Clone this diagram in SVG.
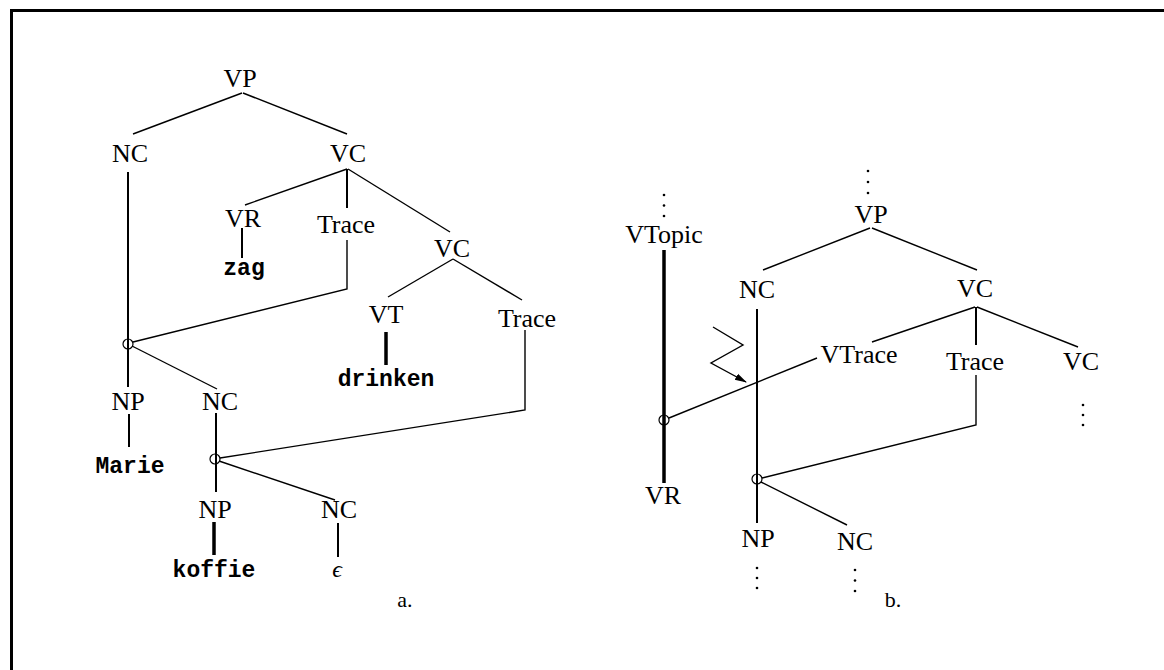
<svg xmlns="http://www.w3.org/2000/svg" width="1164" height="670" viewBox="0 0 1164 670">
<defs>
<style>
.lbl{font-family:"Liberation Serif",serif;font-size:26px;text-anchor:middle;fill:#000}
.tt{font-family:"Liberation Mono",monospace;font-size:23px;font-weight:bold;text-anchor:middle;fill:#000}
.e{fill:none;stroke:#000;stroke-width:1.4}
.v{fill:none;stroke:#000;stroke-width:2}
.tk{fill:none;stroke:#000;stroke-width:3.5}
.c{fill:none;stroke:#000;stroke-width:1.2}
.dot{fill:#000}
</style>
<marker id="ah" viewBox="0 0 12 10" refX="11" refY="5" markerWidth="12" markerHeight="10" orient="auto" markerUnits="userSpaceOnUse">
<path d="M0,1.5 L12,5 L0,8.5 z" fill="#000"/>
</marker>
</defs>
<rect width="1164" height="670" fill="#fff"/>
<path d="M11.5,670 V10.5 H1164" fill="none" stroke="#000" stroke-width="3"/>

<g id="connectors">
<!-- left tree -->
<line class="e" x1="242" y1="93" x2="133" y2="134"/>
<line class="e" x1="243" y1="93" x2="347" y2="134"/>
<line class="v" x1="128" y1="172" x2="128" y2="387"/>
<line class="e" x1="347" y1="169" x2="245" y2="205"/>
<line class="v" x1="347" y1="169" x2="347" y2="208"/>
<line class="e" x1="348" y1="169" x2="450" y2="232"/>
<line class="v" x1="242" y1="228" x2="242" y2="258"/>
<polyline class="e" points="347,240 347,289 133,342"/>
<line class="e" x1="132" y1="346" x2="217" y2="389"/>
<line class="v" x1="129" y1="414" x2="129" y2="447"/>
<line class="v" x1="216" y1="413" x2="216" y2="492"/>
<line class="e" x1="453" y1="259" x2="388" y2="297"/>
<line class="e" x1="453" y1="259" x2="522" y2="300"/>
<line class="tk" x1="386" y1="332" x2="386" y2="365"/>
<polyline class="e" points="525,330 525,410 220,458"/>
<line class="e" x1="219" y1="461" x2="335" y2="500"/>
<line class="tk" x1="214" y1="522" x2="214" y2="555"/>
<line class="v" x1="338" y1="523" x2="338" y2="557"/>
<!-- right tree -->
<line class="tk" x1="664" y1="250" x2="664" y2="483"/>
<line class="e" x1="870" y1="228" x2="763" y2="270"/>
<line class="e" x1="872" y1="228" x2="977" y2="270"/>
<line class="v" x1="757" y1="309" x2="757" y2="523"/>
<line class="e" x1="975" y1="307" x2="872" y2="342"/>
<line class="v" x1="976" y1="307" x2="976" y2="345"/>
<line class="e" x1="977" y1="307" x2="1078" y2="347"/>
<line class="e" x1="817" y1="358" x2="669" y2="418"/>
<polyline class="e" points="976,375 976,425 762,478"/>
<line class="e" x1="761" y1="482" x2="847" y2="525"/>
<polyline class="e" points="713,327 743,345 711,363 746,382" marker-end="url(#ah)"/>
</g>

<g id="nodes-a">
<g id="a-VP"><text class="lbl" x="240" y="87">VP</text></g>
<g id="a-NC1"><text class="lbl" x="130" y="162">NC</text></g>
<g id="a-VC1"><text class="lbl" x="348" y="162">VC</text></g>
<g id="a-VR"><text class="lbl" x="243" y="227">VR</text></g>
<g id="a-Trace1"><text class="lbl" x="346" y="233">Trace</text></g>
<g id="a-zag"><text class="tt" x="244" y="275">zag</text></g>
<g id="a-VC2"><text class="lbl" x="452" y="257">VC</text></g>
<g id="a-VT"><text class="lbl" x="386" y="323">VT</text></g>
<g id="a-Trace2"><text class="lbl" x="527" y="327">Trace</text></g>
<g id="a-drinken"><text class="tt" x="386" y="386">drinken</text></g>
<g id="a-circle1"><circle class="c" cx="128" cy="344" r="5"/></g>
<g id="a-NP1"><text class="lbl" x="128" y="410">NP</text></g>
<g id="a-NC2"><text class="lbl" x="220" y="410">NC</text></g>
<g id="a-Marie"><text class="tt" x="130" y="473">Marie</text></g>
<g id="a-circle2"><circle class="c" cx="215" cy="459" r="5"/></g>
<g id="a-NP2"><text class="lbl" x="215" y="518">NP</text></g>
<g id="a-NC3"><text class="lbl" x="339" y="518">NC</text></g>
<g id="a-koffie"><text class="tt" x="214" y="577">koffie</text></g>
<g id="a-eps"><text x="337" y="577" style="font-family:'Liberation Serif',serif;font-size:24px;font-style:italic;text-anchor:middle">ϵ</text></g>
<g id="a-label"><text class="lbl" x="405" y="607" style="font-size:22px">a.</text></g>
</g>

<g id="nodes-b">
<g id="b-VTopic-dots"><circle class="dot" cx="664" cy="195" r="1.3"/><circle class="dot" cx="664" cy="205.5" r="1.3"/><circle class="dot" cx="664" cy="216" r="1.3"/></g>
<g id="b-VTopic"><text class="lbl" x="664" y="243">VTopic</text></g>
<g id="b-circle1"><circle class="c" cx="664" cy="420" r="5"/></g>
<g id="b-VR"><text class="lbl" x="663" y="504">VR</text></g>
<g id="b-VP-dots"><circle class="dot" cx="868" cy="171" r="1.3"/><circle class="dot" cx="868" cy="182" r="1.3"/><circle class="dot" cx="868" cy="193" r="1.3"/></g>
<g id="b-VP"><text class="lbl" x="871" y="223">VP</text></g>
<g id="b-NC1"><text class="lbl" x="757" y="298">NC</text></g>
<g id="b-VC1"><text class="lbl" x="975" y="297">VC</text></g>
<g id="b-VTrace"><text class="lbl" x="859" y="363">VTrace</text></g>
<g id="b-Trace"><text class="lbl" x="975" y="370">Trace</text></g>
<g id="b-VC2"><text class="lbl" x="1081" y="370">VC</text></g>
<g id="b-VC2-dots"><circle class="dot" cx="1083" cy="405" r="1.3"/><circle class="dot" cx="1083" cy="415" r="1.3"/><circle class="dot" cx="1083" cy="425" r="1.3"/></g>
<g id="b-circle2"><circle class="c" cx="757" cy="479" r="5"/></g>
<g id="b-NP"><text class="lbl" x="758" y="547">NP</text></g>
<g id="b-NC2"><text class="lbl" x="855" y="550">NC</text></g>
<g id="b-NP-dots"><circle class="dot" cx="757" cy="568" r="1.3"/><circle class="dot" cx="757" cy="578" r="1.3"/><circle class="dot" cx="757" cy="588" r="1.3"/></g>
<g id="b-NC2-dots"><circle class="dot" cx="855" cy="570" r="1.3"/><circle class="dot" cx="855" cy="580.5" r="1.3"/><circle class="dot" cx="855" cy="591" r="1.3"/></g>
<g id="b-label"><text class="lbl" x="893" y="607" style="font-size:22px">b.</text></g>
</g>
</svg>
